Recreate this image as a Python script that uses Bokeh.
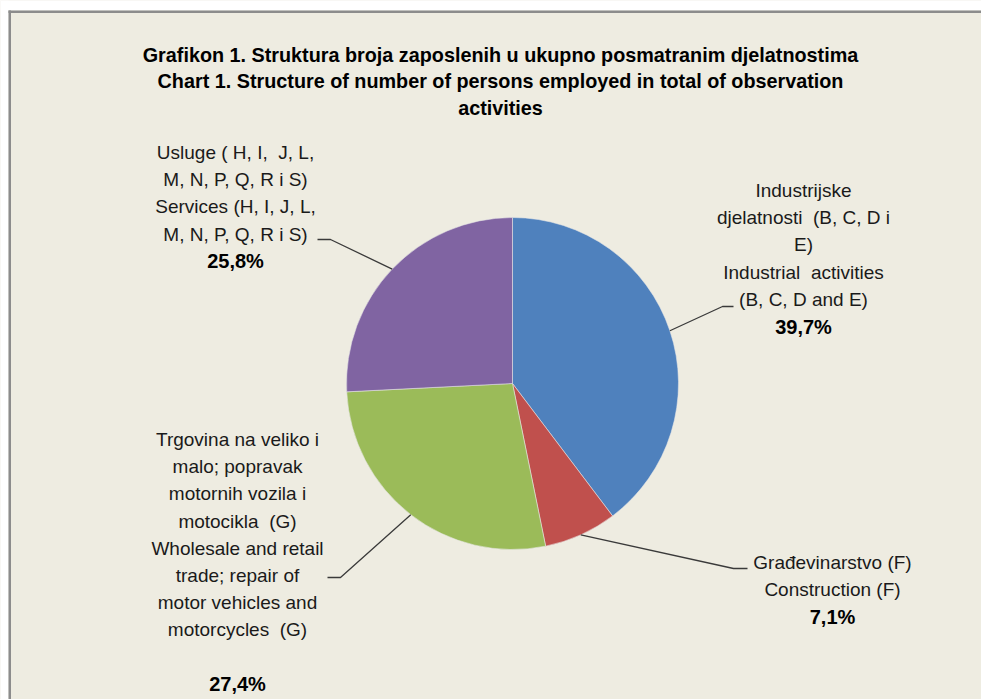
import math
from bokeh.plotting import figure
from bokeh.models import Range1d, ColumnDataSource
from bokeh.core.properties import value
from bokeh.embed import file_html
from bokeh.resources import INLINE

# ---------------- data ----------------
categories = [
    "Industrijske djelatnosti (B, C, D i E)",
    "Građevinarstvo (F)",
    "Trgovina na veliko i malo; popravak motornih vozila i motocikla (G)",
    "Usluge (H, I, J, L, M, N, P, Q, R i S)",
]
shares = [39.7, 7.1, 27.4, 25.8]
pct_labels = ["39,7%", "7,1%", "27,4%", "25,8%"]
NB = "\u00a0"
label_lines = [
    ["Industrijske", "djelatnosti" + NB + " (B, C, D i", "E)", "Industrial" + NB + " activities", "(B, C, D and E)"],
    ["Građevinarstvo (F)", "Construction (F)"],
    ["Trgovina na veliko i", "malo; popravak", "motornih vozila i", "motocikla" + NB + " (G)",
     "Wholesale and retail", "trade; repair of", "motor vehicles and", "motorcycles" + NB + " (G)", ""],
    ["Usluge ( H, I," + NB + " J, L,", "M, N, P, Q, R i S)", "Services (H, I, J, L,", "M, N, P, Q, R i S)"],
]
colors = ["#4F81BD", "#C0504D", "#9BBB59", "#8064A2"]
title_lines = [
    "Grafikon 1. Struktura broja zaposlenih u ukupno posmatranim djelatnostima",
    "Chart 1. Structure of number of persons employed in total of observation",
    "activities",
]

# ---------------- layout (pixels from top-left) ----------------
W, H = 981, 699
CX, CY, R = 512, 383, 166
label_x = [803, 832, 237, 235]
label_y0 = [190, 562, 439, 152]
line_step = 27.2
elbows = [((722, 306), (733, 306)), ((733, 568), (747, 568)),
          ((340, 577), (327, 577)), ((330, 239), (317, 239))]
FONT = "Liberation Sans"
BG = "#EEECE1"


def fy(py):
    return H - py


p = figure(width=W, height=H, x_range=Range1d(0, W), y_range=Range1d(0, H),
           output_backend="svg", toolbar_location=None,
           x_axis_location=None, y_axis_location=None,
           min_border=0, background_fill_color=BG, border_fill_color=BG)
p.grid.visible = False
p.outline_line_color = None

# page edge (white margin + gray frame border)
p.quad(left=[0, 0], right=[8, W], top=[H, H], bottom=[0, H - 10],
       fill_color="white", line_color=None)
p.quad(left=[8, 8], right=[10.5, W], top=[H - 10, H - 10], bottom=[0, H - 12.5],
       fill_color="#8C8C8C", line_color=None)

# pie
total = sum(shares)
starts, ends, mids = [], [], []
cum = 0.0
for s in shares:
    a0 = math.pi / 2 - 2 * math.pi * cum / total
    cum += s
    a1 = math.pi / 2 - 2 * math.pi * cum / total
    starts.append(a0)
    ends.append(a1)
    mids.append((a0 + a1) / 2)

src = ColumnDataSource(dict(x=[CX] * 4, y=[fy(CY)] * 4, start=starts, end=ends,
                            color=colors, cat=categories))
p.wedge(x="x", y="y", radius=R, start_angle="start", end_angle="end",
        direction="clock", fill_color="color", line_color="#E8E8E8",
        line_width=0.8, line_alpha=0.7, source=src)

# leader lines
for m, (e1, e2) in zip(mids, elbows):
    ex = CX + R * math.cos(m)
    ey = fy(CY) + R * math.sin(m)
    p.line([ex, e1[0], e2[0]], [ey, fy(e1[1]), fy(e2[1])],
           line_color="#3A3A3A", line_width=1.3)

# labels
for lines, pct, lx, ly in zip(label_lines, pct_labels, label_x, label_y0):
    ys = [fy(ly + i * line_step) for i in range(len(lines))]
    p.text(x=[lx] * len(lines), y=ys, text=lines, text_font=value(FONT),
           text_font_size="19px", text_color="#1A1A1A", text_align="center",
           text_baseline="middle")
    p.text(x=[lx], y=[fy(ly + len(lines) * line_step)], text=[pct],
           text_font=value(FONT), text_font_size="20px", text_font_style="bold",
           text_color="#000000", text_align="center", text_baseline="middle")

# title
p.text(x=[500] * 3, y=[fy(54), fy(80.7), fy(107.4)], text=title_lines,
       text_font=value(FONT), text_font_size="19.8px", text_font_style="bold",
       text_color="#000000", text_align="center", text_baseline="alphabetic")

open("out.html", "w").write(file_html(p, INLINE))
